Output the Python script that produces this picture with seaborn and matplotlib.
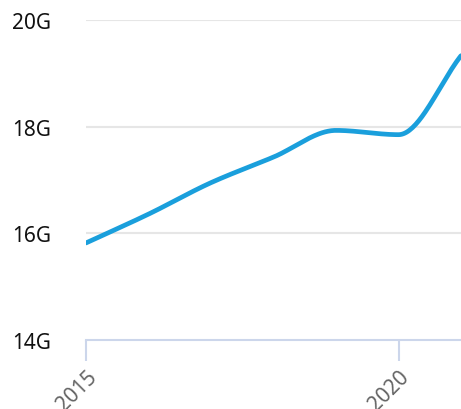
""" Smoothed yearly line, 2015-2021. """
import numpy as np
import pandas as pd
import seaborn as sns
import matplotlib.pyplot as plt

years = [2015, 2016, 2017, 2018, 2019, 2020, 2021]
values_g = [15.82, 16.36, 16.95, 17.43, 17.93, 17.85, 19.33]
y_ticks = [14, 16, 18, 20]
y_labels = ["14G", "16G", "18G", "20G"]
x_ticks = [2015, 2020]
x_labels = ["2015", "2020"]


def monotone_curve(x, y, n=40):
    # monotone cubic (Fritsch-Carlson) for drawing the smooth line
    x = np.asarray(x, float)
    y = np.asarray(y, float)
    h = np.diff(x)
    d = np.diff(y) / h
    m = np.zeros_like(y)
    m[0], m[-1] = d[0], d[-1]
    for i in range(1, len(y) - 1):
        if d[i - 1] * d[i] <= 0:
            m[i] = 0
        else:
            w1 = 2 * h[i] + h[i - 1]
            w2 = h[i] + 2 * h[i - 1]
            m[i] = (w1 + w2) / (w1 / d[i - 1] + w2 / d[i])
    xs, ys = [], []
    for i in range(len(h)):
        t = np.linspace(0, 1, n, endpoint=False)
        h00 = 2 * t**3 - 3 * t**2 + 1
        h10 = t**3 - 2 * t**2 + t
        h01 = -2 * t**3 + 3 * t**2
        h11 = t**3 - t**2
        xs.extend(x[i] + t * h[i])
        ys.extend(h00 * y[i] + h10 * h[i] * m[i] + h01 * y[i + 1] + h11 * h[i] * m[i + 1])
    xs.append(x[-1])
    ys.append(y[-1])
    return np.array(xs), np.array(ys)


sns.set_style("white")
plt.rcParams["font.family"] = ["Noto Sans", "DejaVu Sans"]

cx, cy = monotone_curve(years, values_g)
df = pd.DataFrame({"year": cx, "value": cy})

fig = plt.figure(figsize=(4.61, 4.10), dpi=100)
ax = fig.add_axes([86 / 461, 1 - 341 / 410, 1 - 86 / 461, (341 - 21) / 410])

sns.lineplot(x="year", y="value", data=df, ax=ax, color="#1a9fdc",
             linewidth=3.4, sort=False, clip_on=True)

ax.set_xlim(2015, 2021)
ax.set_ylim(14, 20)
ax.set_yticks(y_ticks)
ax.set_yticklabels(y_labels, fontsize=15, color="#111111")
ax.set_xticks(x_ticks)
ax.set_xticklabels(x_labels, fontsize=15, color="#666666", rotation=45,
                   ha="right", va="top", rotation_mode="anchor")
ax.set_xlabel("")
ax.set_ylabel("")

for t in y_ticks[1:]:
    ax.axhline(t, color="#e6e6e6", linewidth=1.5, zorder=0)

for side in ["top", "right", "left"]:
    ax.spines[side].set_visible(False)
ax.spines["bottom"].set_color("#ccd6eb")
ax.spines["bottom"].set_linewidth(1.5)

ax.tick_params(axis="y", length=0, pad=25)
ax.tick_params(axis="x", length=15, width=1.5, color="#ccd6eb", pad=4,
               direction="out", bottom=True)

fig.savefig("out.png", dpi=100)
